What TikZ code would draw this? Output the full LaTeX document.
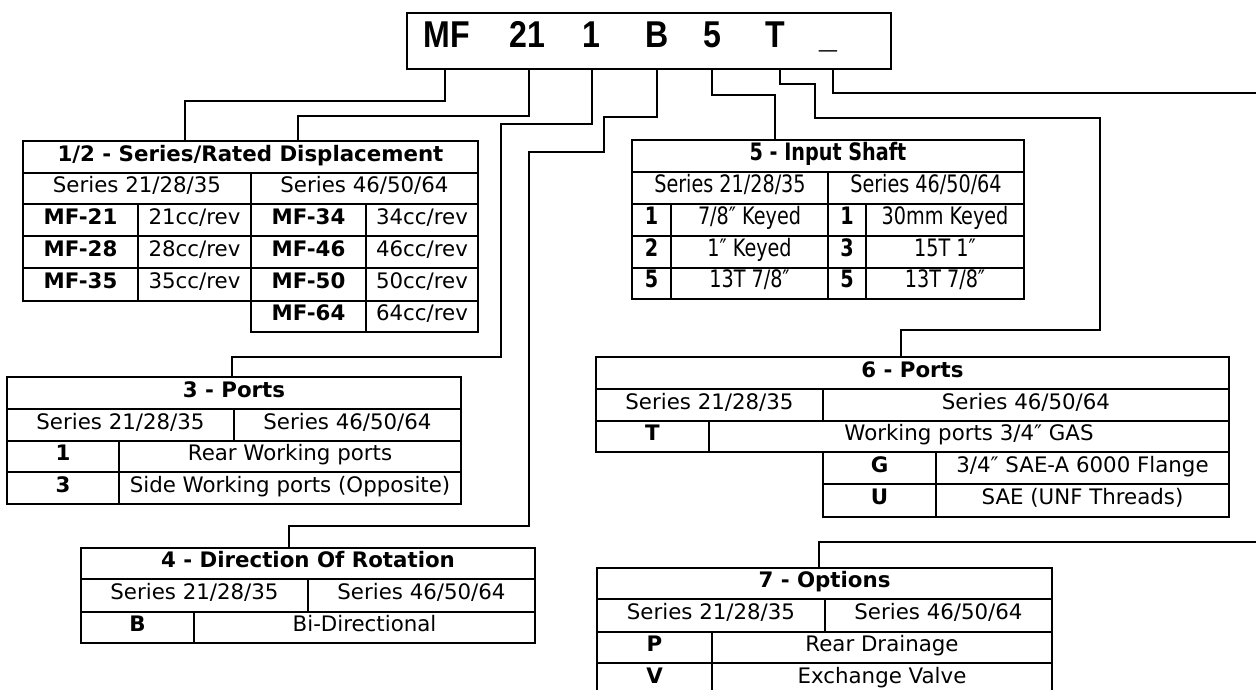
\documentclass[tikz,border=0pt]{standalone}
\usepackage{fontspec}
\setmainfont{DejaVu Sans}
\newfontfamily\codefont[FakeStretch=0.86]{Liberation Sans}
\newfontfamily\condfont[FakeStretch=0.8]{DejaVu Sans}
\newcommand\tc[7][cell]{\node[#1, minimum width={(#5-#3)*0.75pt}, minimum height={(#6-#4)*0.75pt}] (#2) at ({(#3+#5)/2},{(#4+#6)/2}) {#7};}
\begin{document}
\begin{tikzpicture}[x=0.75pt,y=-0.75pt,
  cell/.style={draw, line width=1.2pt, inner sep=0pt, text height=9pt, text depth=3pt, font=\fontsize{16}{19}\selectfont},
  bcell/.style={cell, font=\fontsize{16}{19}\selectfont\bfseries},
  ccell/.style={cell, font=\condfont\fontsize{18}{21}\selectfont},
  cbcell/.style={cell, font=\condfont\fontsize{18}{21}\selectfont\bfseries},
  conn/.style={line width=1.5pt},
  codechar/.style={font=\codefont\bfseries\fontsize{28}{31}\selectfont, anchor=base, inner sep=0pt}]
\fill[white] (0,0) rectangle (1256,689);
\useasboundingbox (0,0) rectangle (1256,689);
\clip (0,0) rectangle (1256,689);

% code box
\node[draw, line width=1.5pt, inner sep=0pt, minimum width={(891-406.7)*0.75pt}, minimum height={(69-12.7)*0.75pt}] (code) at ({(406.7+891)/2},{(12.7+69)/2}) {};
\node[codechar] (kMF) at (447,47.7) {MF};
\node[codechar] (k21) at (527,47.7) {21};
\node[codechar] (k1) at (591,47.7) {1};
\node[codechar] (kB) at (657,47.7) {B};
\node[codechar] (k5) at (712,47.7) {5};
\node[codechar] (kT) at (775,47.7) {T};
\node[codechar] (kU) at (828,47.7) {\_};

% Table 1/2
\tc[bcell]{tA}{23}{141}{478}{173}{1/2 - Series/Rated Displacement}
\tc{tAs1}{23}{173}{251}{204}{Series 21/28/35}
\tc{tAs2}{251}{173}{478}{204}{Series 46/50/64}
\tc[bcell]{tA11}{23}{204}{138}{236}{MF-21}
\tc{tA12}{138}{204}{251}{236}{21cc/rev}
\tc[bcell]{tA13}{251}{204}{366}{236}{MF-34}
\tc{tA14}{366}{204}{478}{236}{34cc/rev}
\tc[bcell]{tA21}{23}{236}{138}{268}{MF-28}
\tc{tA22}{138}{236}{251}{268}{28cc/rev}
\tc[bcell]{tA23}{251}{236}{366}{268}{MF-46}
\tc{tA24}{366}{236}{478}{268}{46cc/rev}
\tc[bcell]{tA31}{23}{268}{138}{301}{MF-35}
\tc{tA32}{138}{268}{251}{301}{35cc/rev}
\tc[bcell]{tA33}{251}{268}{366}{301}{MF-50}
\tc{tA34}{366}{268}{478}{301}{50cc/rev}
\tc[bcell]{tA43}{251}{301}{366}{332}{MF-64}
\tc{tA44}{366}{301}{478}{332}{64cc/rev}

% Table 3
\tc[bcell]{tB}{7}{377}{461}{409}{3 - Ports}
\tc{tBs1}{7}{409}{234}{441}{Series 21/28/35}
\tc{tBs2}{234}{409}{461}{441}{Series 46/50/64}
\tc[bcell]{tB11}{7}{441}{119}{472}{1}
\tc{tB12}{119}{441}{461}{472}{Rear Working ports}
\tc[bcell]{tB21}{7}{472}{119}{504}{3}
\tc{tB22}{119}{472}{461}{504}{Side Working ports (Opposite)}

% Table 4
\tc[bcell]{tC}{81}{548}{535}{579}{4 - Direction Of Rotation}
\tc{tCs1}{81}{579}{308}{612}{Series 21/28/35}
\tc{tCs2}{308}{579}{535}{612}{Series 46/50/64}
\tc[bcell]{tC11}{81}{612}{194}{643}{B}
\tc{tC12}{194}{612}{535}{643}{Bi-Directional}

% Table 5
\tc[cbcell]{tD}{632}{140}{1024}{172}{5 - Input Shaft}
\tc[ccell]{tDs1}{632}{172}{828}{204}{Series 21/28/35}
\tc[ccell]{tDs2}{828}{172}{1024}{204}{Series 46/50/64}
\tc[cbcell]{tD11}{632}{204}{671}{236}{1}
\tc[ccell]{tD12}{671}{204}{828}{236}{7/8″ Keyed}
\tc[cbcell]{tD13}{828}{204}{866}{236}{1}
\tc[ccell]{tD14}{866}{204}{1024}{236}{30mm Keyed}
\tc[cbcell]{tD21}{632}{236}{671}{268}{2}
\tc[ccell]{tD22}{671}{236}{828}{268}{1″ Keyed}
\tc[cbcell]{tD23}{828}{236}{866}{268}{3}
\tc[ccell]{tD24}{866}{236}{1024}{268}{15T 1″}
\tc[cbcell]{tD31}{632}{268}{671}{299}{5}
\tc[ccell]{tD32}{671}{268}{828}{299}{13T 7/8″}
\tc[cbcell]{tD33}{828}{268}{866}{299}{5}
\tc[ccell]{tD34}{866}{268}{1024}{299}{13T 7/8″}

% Table 6
\tc[bcell]{tE}{596}{357}{1229}{389}{6 - Ports}
\tc{tEs1}{596}{389}{823}{421}{Series 21/28/35}
\tc{tEs2}{823}{389}{1229}{421}{Series 46/50/64}
\tc[bcell]{tE11}{596}{421}{709}{452}{T}
\tc{tE12}{709}{421}{1229}{452}{Working ports 3/4″ GAS}
\tc[bcell]{tE21}{823}{452}{936}{484}{G}
\tc{tE22}{936}{452}{1229}{484}{3/4″ SAE-A 6000 Flange}
\tc[bcell]{tE31}{823}{484}{936}{517}{U}
\tc{tE32}{936}{484}{1229}{517}{SAE (UNF Threads)}

% Table 7
\tc[bcell]{tF}{597}{568}{1052}{599}{7 - Options}
\tc{tFs1}{597}{599}{825}{632}{Series 21/28/35}
\tc{tFs2}{825}{599}{1052}{632}{Series 46/50/64}
\tc[bcell]{tF11}{597}{632}{712}{663}{P}
\tc{tF12}{712}{632}{1052}{663}{Rear Drainage}
\tc[bcell]{tF21}{597}{663}{712}{695}{V}
\tc{tF22}{712}{663}{1052}{695}{Exchange Valve}

% connector bends
\coordinate (m1) at (445,101); \coordinate (m2) at (185,101);
\coordinate (n1) at (529,116); \coordinate (n2) at (298,116);
\coordinate (o1) at (592,124); \coordinate (o2) at (501,124);
\coordinate (o3) at (501,357); \coordinate (o4) at (232,357);
\coordinate (q1) at (657,117); \coordinate (q2) at (604,117);
\coordinate (q3) at (604,152); \coordinate (q4) at (529,152);
\coordinate (q5) at (529,526); \coordinate (q6) at (289,526);
\coordinate (r1) at (712,95); \coordinate (r2) at (775,95);
\coordinate (s1) at (780,84); \coordinate (s2) at (815,84);
\coordinate (s3) at (815,118); \coordinate (s4) at (1100,118);
\coordinate (s5) at (1100,330); \coordinate (s6) at (901,330);
\coordinate (u1) at (833,93); \coordinate (u2) at (1257,93);
\coordinate (v1) at (1257,542); \coordinate (v2) at (819,542);

\draw[conn] (code.south -| m1) -- (m1) -- (m2) -- (m2 |- tA.north);
\draw[conn] (code.south -| n1) -- (n1) -- (n2) -- (n2 |- tA.north);
\draw[conn] (code.south -| o1) -- (o1) -- (o2) -- (o3) -- (o4) -- (o4 |- tB.north);
\draw[conn] (code.south -| q1) -- (q1) -- (q2) -- (q3) -- (q4) -- (q5) -- (q6) -- (q6 |- tC.north);
\draw[conn] (code.south -| r1) -- (r1) -- (r2) -- (r2 |- tD.north);
\draw[conn] (code.south -| s1) -- (s1) -- (s2) -- (s3) -- (s4) -- (s5) -- (s6) -- (s6 |- tE.north);
\draw[conn] (code.south -| u1) -- (u1) -- (u2);
\draw[conn] (v1) -- (v2) -- (v2 |- tF.north);
\end{tikzpicture}
\end{document}
